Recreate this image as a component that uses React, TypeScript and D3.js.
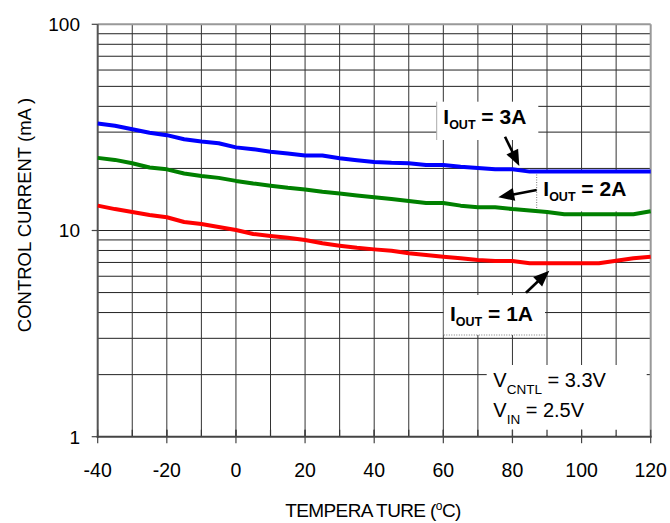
import React from "react";
import * as d3 from "d3";

const TEMPS = [-40, -35, -30, -25, -20, -15, -10, -5, 0, 5, 10, 15, 20, 25, 30, 35, 40, 45, 50, 55, 60, 65, 70, 75, 80, 85, 90, 95, 100, 105, 110, 115, 120];
const IOUT_3A = [33.0, 32.2, 31.0, 29.8, 29.0, 27.7, 27.0, 26.5, 25.3, 24.8, 24.1, 23.6, 23.1, 23.1, 22.4, 21.9, 21.5, 21.3, 21.2, 20.8, 20.8, 20.4, 20.1, 19.8, 19.8, 19.3, 19.3, 19.3, 19.3, 19.3, 19.3, 19.3, 19.3];
const IOUT_2A = [22.5, 22.0, 21.2, 20.2, 19.8, 18.9, 18.4, 18.0, 17.4, 16.9, 16.5, 16.1, 15.8, 15.4, 15.1, 14.8, 14.5, 14.2, 13.9, 13.6, 13.6, 13.2, 12.96, 12.96, 12.7, 12.5, 12.3, 12.0, 12.0, 12.0, 12.0, 12.0, 12.4];
const IOUT_1A = [13.2, 12.7, 12.3, 11.9, 11.6, 11.0, 10.75, 10.4, 10.05, 9.62, 9.4, 9.22, 8.99, 8.67, 8.44, 8.25, 8.1, 7.98, 7.75, 7.6, 7.46, 7.33, 7.2, 7.11, 7.11, 6.93, 6.93, 6.93, 6.93, 6.93, 7.14, 7.33, 7.46];
const X_TICKS = [-40, -20, 0, 20, 40, 60, 80, 100, 120];
const X_GRID = [-30, -20, -10, 0, 10, 20, 30, 40, 50, 60, 70, 80, 90, 100, 110];
const Y_TICKS = [1, 10, 100];

const SERIES = [
  { name: "3A", values: IOUT_3A, color: "#0000ff" },
  { name: "2A", values: IOUT_2A, color: "#008000" },
  { name: "1A", values: IOUT_1A, color: "#ff0000" },
];

const W = 670, H = 523;
const L = 97.7, R = 650.7, T = 24.3, B = 436.7;
const FONT = "'Liberation Sans', Arial, sans-serif";

function Arrow({ x1, y1, x2, y2 }: { x1: number; y1: number; x2: number; y2: number }) {
  const dx = x2 - x1, dy = y2 - y1;
  const len = Math.hypot(dx, dy);
  const ux = dx / len, uy = dy / len;
  const hl = 16, hw = 6.5;
  const bx = x2 - ux * hl, by = y2 - uy * hl;
  const px = -uy, py = ux;
  const pts = `${x2},${y2} ${bx + px * hw},${by + py * hw} ${bx - px * hw},${by - py * hw}`;
  return (
    <g>
      <line x1={x1} y1={y1} x2={bx + ux * 2} y2={by + uy * 2} stroke="#000" strokeWidth={2.6} />
      <polygon points={pts} fill="#000" />
    </g>
  );
}

export default function App() {
  const x = d3.scaleLinear().domain([-40, 120]).range([L, R]);
  const y = d3.scaleLog().domain([1, 100]).range([B, T]);
  const yGrid = y.ticks().filter((v) => v !== 1 && v !== 100);
  const line = d3
    .line<number>()
    .x((_, i) => x(TEMPS[i]))
    .y((d) => y(d));

  return (
    <svg width={W} height={H} style={{ position: "absolute", left: 0, top: 0, background: "#fff" }} fontFamily={FONT}>
      <rect x={0} y={0} width={W} height={H} fill="#fff" />
      {/* grid */}
      {yGrid.map((v) => (
        <line key={"gy" + v} x1={L} x2={R} y1={y(v)} y2={y(v)} stroke="#222" strokeWidth={1} />
      ))}
      {X_GRID.map((t) => (
        <line key={"gx" + t} x1={x(t)} x2={x(t)} y1={T} y2={B} stroke="#333" strokeWidth={1} />
      ))}
      {/* minor ticks inside along x axis */}
      {X_GRID.map((t) => (
        <line key={"mt" + t} x1={x(t)} x2={x(t)} y1={B - 7} y2={B} stroke="#333" strokeWidth={1.2} />
      ))}
      {/* annotation boxes */}
      <rect x={436.7} y={101.7} width={101.6} height={38.3} fill="#fff" />
      <line x1={436.7} x2={436.7} y1={101.7} y2={140} stroke="#aaa" strokeWidth={1} />
      <rect x={536.7} y={171.9} width={111.5} height={39.5} fill="#fff" />
      <line x1={536.7} x2={536.7} y1={172} y2={211} stroke="#777" strokeWidth={1} strokeDasharray="1,1.5" />
      <rect x={443.8} y={295} width={101.2} height={40} fill="#fff" />
      <line x1={443.8} x2={545} y1={335} y2={335} stroke="#777" strokeWidth={1} strokeDasharray="1,1.5" />
      <rect x={486.7} y={365} width={160} height={B - 365 - 1} fill="#fff" />
      {/* ticks inside visible in box */}
      {X_GRID.filter((t) => t >= 80).map((t) => (
        <line key={"mt2" + t} x1={x(t)} x2={x(t)} y1={B - 7} y2={B} stroke="#333" strokeWidth={1.2} />
      ))}
      {/* frame */}
      <line x1={L} x2={R} y1={T} y2={T} stroke="#999" strokeWidth={2} />
      <line x1={R} x2={R} y1={T} y2={B} stroke="#999" strokeWidth={2} />
      <line x1={L} x2={L} y1={T} y2={B + 1} stroke="#555" strokeWidth={2} />
      <line x1={L - 1} x2={R + 1} y1={B} y2={B} stroke="#444" strokeWidth={2} />
      {/* axis ticks */}
      {Y_TICKS.map((v) => (
        <line key={"yt" + v} x1={L - 6} x2={L} y1={y(v)} y2={y(v)} stroke="#444" strokeWidth={1.2} />
      ))}
      {X_TICKS.map((t) => (
        <line key={"xt" + t} x1={x(t)} x2={x(t)} y1={B - 7} y2={B + 6.5} stroke="#444" strokeWidth={1.2} />
      ))}
      {/* tick labels */}
      {Y_TICKS.map((v) => (
        <text key={"yl" + v} x={80} y={y(v) + 6.8} textAnchor="end" fontSize={19} fill="#000">
          {v}
        </text>
      ))}
      {X_TICKS.map((t) => (
        <text key={"xl" + t} x={x(t)} y={476.5} textAnchor="middle" fontSize={19.5} fill="#000">
          {t}
        </text>
      ))}
      {/* axis titles */}
      <text transform="translate(31,215) rotate(-90)" textAnchor="middle" fontSize={18.5} fill="#000">
        CONTROL CURRENT (mA )
      </text>
      <text x={373} y={516.5} textAnchor="middle" fontSize={19} fill="#000" letterSpacing={-0.6}>
        TEMPERA TURE (<tspan fontSize={12} dy={-7}>o</tspan>
        <tspan dy={7}>C)</tspan>
      </text>
      {/* data lines */}
      {SERIES.map((s) => (
        <path key={s.name} d={line(s.values) || ""} fill="none" stroke={s.color} strokeWidth={4} strokeLinejoin="round" strokeLinecap="butt" />
      ))}
      {/* labels */}
      <text x={443.3} y={124.3} fontSize={21} fontWeight="bold" fill="#000">
        I<tspan fontSize={12.5} dy={5}>OUT</tspan>
        <tspan dy={-5}> = 3A</tspan>
      </text>
      <text x={543.3} y={196} fontSize={21} fontWeight="bold" fill="#000">
        I<tspan fontSize={12.5} dy={5}>OUT</tspan>
        <tspan dy={-5}> = 2A</tspan>
      </text>
      <text x={450} y={320.7} fontSize={21} fontWeight="bold" fill="#000">
        I<tspan fontSize={12.5} dy={5}>OUT</tspan>
        <tspan dy={-5}> = 1A</tspan>
      </text>
      <text x={493.3} y={386.7} fontSize={20} fill="#000">
        V<tspan fontSize={13.5} dy={7}>CNTL</tspan>
        <tspan dy={-7}> = 3.3V</tspan>
      </text>
      <text x={493.3} y={416.7} fontSize={20} fill="#000">
        V<tspan fontSize={13.5} dy={7}>IN</tspan>
        <tspan dy={-7}> = 2.5V</tspan>
      </text>
      <Arrow x1={505} y1={136.7} x2={519.3} y2={166} />
      <Arrow x1={536.7} y1={190} x2={498.3} y2={197.3} />
      <Arrow x1={526} y1={292.7} x2={549.3} y2={270.7} />
    </svg>
  );
}
